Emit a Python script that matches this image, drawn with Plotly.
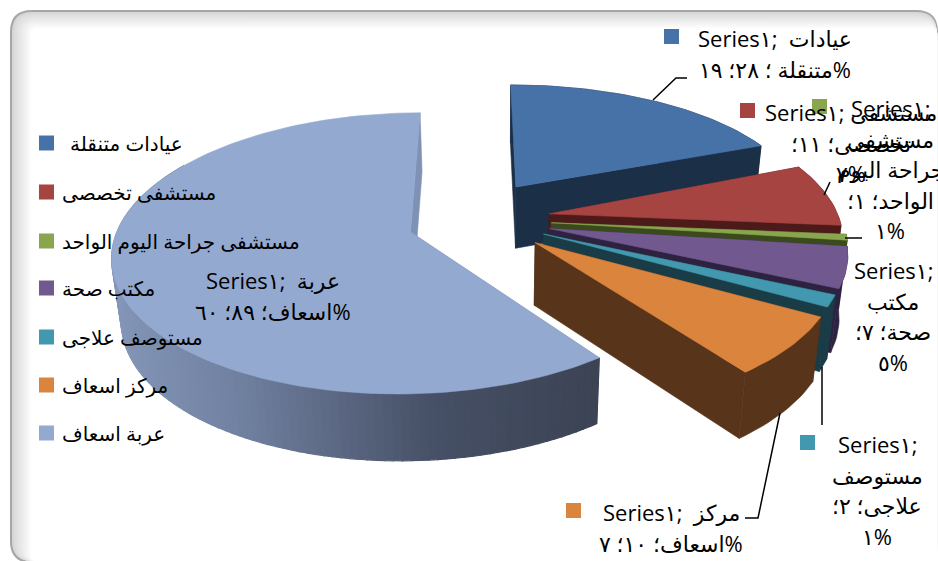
import math
import plotly.graph_objects as go

# ---------- data ----------
categories = ["عيادات متنقلة", "مستشفى تخصصى", "مستشفى جراحة اليوم الواحد", "مكتب صحة",
              "مستوصف علاجى", "مركز اسعاف", "عربة اسعاف"]
values = [28, 11, 1, 7, 2, 10, 89]
series_name = "Series١"

top_colors = ["#4672a8", "#a64441", "#89a54e", "#71588f", "#4198af", "#db843d", "#93a9cf"]
wall_colors = ["#1b2f47", "#4b1a19", "#3a4a1c", "#2d2240", "#1a3c47", "#57341a", "#4a556d"]

# ---------- projection of the exploded 3-D pie ----------
OX, OY = 477, 219
RX, RY, K = 290, 134, 0.15
EXPLODE = 0.26
NUDGE = [(-2, -4), (-2, 0), (-1, 0), (-1, 0), (-2, -1), (0, 0), (6, 2)]
RY_SCALE = [0.93, 1, 1, 1, 1, 1, 1]
VANISH_X, SHRINK = 500, 0.025
PAPER = "#ffffff"


def top_pt(i, deg, r=1.0):
    total = sum(values)
    start = sum(values[:i]) / total * 360
    mid = start + values[i] / total * 180
    ex = EXPLODE * math.sin(math.radians(mid))
    ez = EXPLODE * math.cos(math.radians(mid))
    px = ex + r * math.sin(math.radians(deg))
    pz = ez + r * math.cos(math.radians(deg))
    f = 1 / (1 + K * pz)
    apex_y = -RY * ez / (1 + K * ez)
    y = apex_y + (-RY * pz * f - apex_y) * RY_SCALE[i]
    return OX + RX * px * f + NUDGE[i][0], OY + y + NUDGE[i][1], f


def low_pt(i, deg, r=1.0):
    x, y, f = top_pt(i, deg, r)
    return x - (x - VANISH_X) * SHRINK, y + 62 + (f - 1) * 25


def poly(xs, ys, color, lw=0.6):
    return go.Scatter(x=xs + xs[:1], y=ys + ys[:1], mode="lines", fill="toself", fillcolor=color,
                      line=dict(color=color, width=lw), hoverinfo="skip", showlegend=False)


def lerp_hex(stops, t):
    for (t0, c0), (t1, c1) in zip(stops, stops[1:]):
        if t <= t1:
            u = (t - t0) / (t1 - t0)
            a = [int(c0[j:j + 2], 16) for j in (1, 3, 5)]
            b = [int(c1[j:j + 2], 16) for j in (1, 3, 5)]
            return "#%02x%02x%02x" % tuple(round(p + (q - p) * u) for p, q in zip(a, b))
    return stops[-1][1]


BIG_STOPS = [(0, "#8496b8"), (0.04, "#8092b3"), (0.25, "#7181a1"), (0.45, "#5c6984"), (0.66, "#465066"),
             (1, "#3b4354")]

traces = []
total_v = sum(values)
order = [6, 0, 1, 2, 3, 4, 5]
for i in order:
    a0 = sum(values[:i]) / total_v * 360
    a1 = a0 + values[i] / total_v * 360
    n = max(6, int((a1 - a0) / 1.5))
    angs = [a0 + (a1 - a0) * k / n for k in range(n + 1)]
    # radial walls
    for a in (a0, a1):
        t0, t1 = top_pt(i, a), top_pt(i, a, 0)
        b0, b1 = low_pt(i, a), low_pt(i, a, 0)
        col = "#7f92b5" if i == 6 else wall_colors[i]
        traces.append(poly([t0[0], t1[0], b1[0], b0[0]], [t0[1], t1[1], b1[1], b0[1]], col))
    # outer wall
    if i == 6:
        for j in range(n):
            a, b = angs[j], angs[j + 1]
            if a > 300:
                continue
            p0, p1, q1, q0 = top_pt(i, a), top_pt(i, b), low_pt(i, b), low_pt(i, a)
            xm = (p0[0] + p1[0]) / 2
            traces.append(poly([p0[0], p1[0], q1[0], q0[0]], [p0[1], p1[1], q1[1], q0[1]],
                               lerp_hex(BIG_STOPS, max(0, min(1, (xm - 112) / 486))), lw=1.2))
    else:
        tops = [top_pt(i, a) for a in angs]
        lows = [low_pt(i, a) for a in angs]
        traces.append(poly([p[0] for p in tops] + [p[0] for p in lows[::-1]],
                           [p[1] for p in tops] + [p[1] for p in lows[::-1]], wall_colors[i]))
    # top face
    tops = [top_pt(i, a) for a in angs] + [top_pt(i, a1, 0)]
    traces.append(poly([p[0] for p in tops], [p[1] for p in tops], top_colors[i]))

# ---------- legend ----------
LEG_Y = [143, 192, 241, 288, 337, 385, 433]
LEG_X = [68, 60, 60, 60, 60, 60, 60]
traces.append(go.Scatter(x=[46.5] * 7, y=LEG_Y, mode="markers", hoverinfo="skip", showlegend=False,
                         marker=dict(symbol="square", size=15, color=top_colors)))

AR_DIGITS = "٠١٢٣٤٥٦٧٨٩"


def ar(n):
    return "".join(AR_DIGITS[int(c)] for c in str(n))


pct = [round(v / total_v * 100) for v in values]
ser = "Series\u200e١\u200e;\u200e "
# per-label wrapped lines, exactly as the chart breaks them
label_lines = [
    [ser + " عيادات", f"\u200f%متنقلة ؛ {ar(values[0])}؛ {ar(pct[0])}"],
    [ser + "مستشفى", f"\u200fتخصصى؛ {ar(values[1])}؛", f"{ar(pct[1])}%"],
    ["Series\u200e١\u200e;", "مستشفى", "جراحة اليوم", f"\u200fالواحد؛ {ar(values[2])}؛", f"{ar(pct[2])}%"],
    ["Series\u200e١\u200e;", "مكتب", f"\u200fصحة؛ {ar(values[3])}؛", f"{ar(pct[3])}%"],
    ["Series\u200e١\u200e;", "مستوصف", f"\u200fعلاجى؛ {ar(values[4])}؛", f"{ar(pct[4])}%"],
    [ser + " مركز", f"\u200f%اسعاف؛ {ar(values[5])}؛ {ar(pct[5])}"],
    [ser + " عربة", f"\u200f%اسعاف؛ {ar(values[6])}؛ {ar(pct[6])}"],
]
LABEL_POS = [(775, 38), (851, 112), (890, 108), (893, 270), (877, 444), (671, 512), (273, 280)]
KEY_POS = [(671.5, 36.5), (747.5, 110.5), (819.5, 106.5), None, (807.5, 442.5), (573.5, 510.5), None]
LINE_GAP = 30.5

annotations = []
FONT = "'Open Sans', 'DejaVu Sans', sans-serif"
for (cx, cy), lines in zip(LABEL_POS, label_lines):
    for k, ln in enumerate(lines):
        annotations.append(dict(x=cx, y=cy + k * LINE_GAP, text=ln, showarrow=False, xref="x", yref="y",
                                xanchor="center", yanchor="middle",
                                font=dict(family=FONT, size=22, color="#000000")))
for x0, y0, name in zip(LEG_X, LEG_Y, categories):
    annotations.append(dict(x=x0, y=y0, text=name, showarrow=False, xref="x", yref="y",
                            xanchor="left", yanchor="middle",
                            font=dict(family=FONT, size=20, color="#000000")))

keys = [(p, c) for p, c in zip(KEY_POS, top_colors) if p]
traces.append(go.Scatter(x=[p[0] for p, _ in keys], y=[p[1] for p, _ in keys], mode="markers",
                         hoverinfo="skip", showlegend=False,
                         marker=dict(symbol="square", size=15, color=[c for _, c in keys])))

# ---------- leader lines ----------
LEADERS = [
    [(653, 100), (676, 78), (687, 78)],
    [(824, 195), (830, 182)],
    [(845, 238), (862, 238)],
    [(822, 367), (822, 425)],
    [(780, 413), (758, 518), (745, 518)],
]
for pts in LEADERS:
    traces.append(go.Scatter(x=[p[0] for p in pts], y=[p[1] for p in pts], mode="lines",
                             line=dict(color="#000000", width=1.5), hoverinfo="skip", showlegend=False))


# ---------- rounded frame ----------
def rrect(x0, y0, x1, y1, r):
    return (f"M{x0 + r},{y0} L{x1 - r},{y0} Q{x1},{y0} {x1},{y0 + r} L{x1},{y1 - r} Q{x1},{y1} {x1 - r},{y1} "
            f"L{x0 + r},{y1} Q{x0},{y1} {x0},{y1 - r} L{x0},{y0 + r} Q{x0},{y0} {x0 + r},{y0} Z")


shapes = [dict(type="path", path=rrect(10, 10, 938, 563, 22), fillcolor="#a6a6a6", line_width=0, layer="below")]
STEPS = 14
for s in range(STEPS):
    t = s / (STEPS - 1)
    g = round(214 + (255 - 214) * t ** 0.9)
    shapes.append(dict(type="path",
                       path=rrect(12 + 19 * t, 12 + 16 * t, 936.5 + 1 * t, 561 + 1 * t, max(6, 20 - 12 * t)),
                       fillcolor=f"rgb({g},{g},{g})", line_width=0, layer="below"))

fig = go.Figure(traces)
fig.update_layout(
    width=938, height=561, margin=dict(l=0, r=0, t=0, b=0), autosize=False,
    paper_bgcolor=PAPER, plot_bgcolor="rgba(0,0,0,0)", showlegend=False,
    xaxis=dict(range=[0, 938], visible=False, fixedrange=True),
    yaxis=dict(range=[561, 0], visible=False, fixedrange=True),
    annotations=annotations, shapes=shapes,
)
fig.write_html("out.html", config={"displayModeBar": False},
               post_script="document.body.style.margin='0';document.body.style.overflow='hidden';")
